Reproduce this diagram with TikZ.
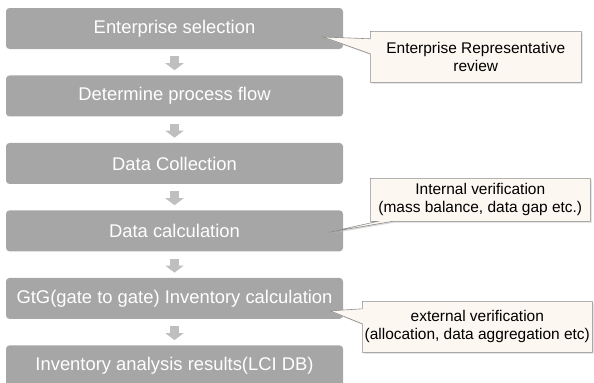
\documentclass[tikz,border=0pt]{standalone}
\usepackage{fontspec}
\setmainfont{Liberation Sans}
\usetikzlibrary{arrows.meta,positioning,shapes.callouts,shadows,calc}
\definecolor{stagegray}{HTML}{A6A6A6}
\definecolor{arrowgray}{HTML}{BFBFBF}
\definecolor{notefill}{HTML}{FDF7F1}
\definecolor{noteline}{HTML}{8C8C8C}
\tikzset{
  stage/.style     = {rectangle, rounded corners=3pt, fill=stagegray, text=white,
                      minimum width=10.11cm, minimum height=1.23cm, inner sep=0pt,
                      font=\fontsize{15.7}{18}\selectfont},
  note/.style      = {rectangle callout, draw=noteline, fill=notefill, line width=0.5pt,
                      align=center, inner sep=2pt, callout pointer width=0.45cm,
                      font=\fontsize{13.2}{15.5}\selectfont,
                      drop shadow={shadow xshift=1.2pt, shadow yshift=-1.2pt,
                                   fill=black!25, opacity=0.6}},
  flowarrow/.style = {draw=arrowgray, line width=0.27cm,
                      -{Triangle[length=0.21cm, width=0.54cm]},
                      shorten <=0.21cm, shorten >=0.15cm}
}

\begin{document}
\begin{tikzpicture}[x=1cm, y=1cm]
  \useasboundingbox (0,0) rectangle (17.82,-11.46);

  % ---- main chain of stages ----
  \node[stage] (sel) at (5.235,-0.855) {Enterprise selection};
  \node[stage, below=0.78cm of sel]  (proc) {Determine process flow};
  \node[stage, below=0.78cm of proc] (coll) {Data Collection};
  \node[stage, below=0.78cm of coll] (calc) {Data calculation};
  \node[stage, below=0.78cm of calc] (gtg)  {GtG(gate to gate) Inventory calculation};
  \node[stage, below=0.78cm of gtg]  (lci)  {Inventory analysis results(LCI DB)};

  \draw[flowarrow] (sel)  -- (proc);
  \draw[flowarrow] (proc) -- (coll);
  \draw[flowarrow] (coll) -- (calc);
  \draw[flowarrow] (calc) -- (gtg);
  \draw[flowarrow] (gtg)  -- (lci);

  % ---- review / verification notes ----
  \node[note, minimum width=6.33cm, minimum height=1.53cm, anchor=north west,
        callout absolute pointer={($(sel.east)+(-0.6,-0.255)$)}]
        (rep) at (11.1,-0.93) {Enterprise Representative\\review};
  \node[note, minimum width=6.6cm, minimum height=1.29cm, anchor=north west,
        callout absolute pointer={($(calc.east)+(-0.45,-0.045)$)}]
        (intv) at (11.1,-5.34) {Internal verification\\(mass balance, data gap etc.)};
  \node[note, minimum width=6.9cm, minimum height=1.53cm, anchor=north west,
        callout absolute pointer={($(gtg.east)+(-0.39,-0.375)$)}]
        (extv) at (10.86,-9.03) {external verification\\(allocation, data aggregation etc)};
\end{tikzpicture}
\end{document}
